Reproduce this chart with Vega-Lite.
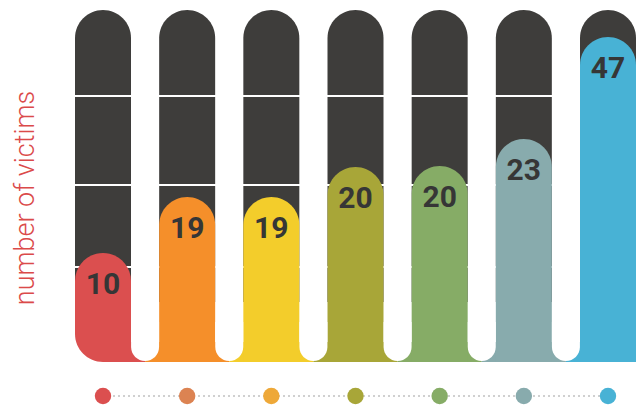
{
  "$schema": "https://vega.github.io/schema/vega-lite/v6.json",
  "width": 561,
  "height": 396,
  "padding": {"left": 75, "top": 10, "right": 0, "bottom": 0},
  "autosize": {"type": "none"},
  "background": "white",
  "config": {"view": {"stroke": null}},
  "data": {
    "values": [
      {"bar": "1", "value": 10, "level": 109},
      {"bar": "2", "value": 19, "level": 165},
      {"bar": "3", "value": 19, "level": 165},
      {"bar": "4", "value": 20, "level": 195},
      {"bar": "5", "value": 20, "level": 196},
      {"bar": "6", "value": 23, "level": 223},
      {"bar": "7", "value": 47, "level": 325}
    ]
  },
  "resolve": {"scale": {"color": "independent"}, "axis": {"y": "independent"}},
  "layer": [
    {
      "mark": {"type": "bar", "color": "#3E3D3B", "cornerRadiusTopLeft": 28, "cornerRadiusTopRight": 28},
      "encoding": {
        "x": {"field": "bar", "type": "nominal", "axis": null, "scale": {"paddingInner": 0.3347, "paddingOuter": 0}},
        "y": {"datum": 352, "type": "quantitative", "scale": {"domain": [-44, 352], "nice": false, "zero": false},
          "axis": {"title": "number of victims", "labels": false, "ticks": false, "domain": false, "grid": false,
            "titleX": -42, "titleY": 187.5, "titleAngle": -90, "titleAlign": "center", "titleBaseline": "alphabetic",
            "titleFont": "Roboto", "titleFontWeight": 300, "titleFontSize": 27, "titleColor": "#DB4A4A"}},
        "y2": {"datum": 60}
      }
    },
    {
      "data": {"values": [{"g": 95}, {"g": 177}, {"g": 266}]},
      "mark": {"type": "rule", "color": "white", "strokeWidth": 2},
      "encoding": {
        "y": {"field": "g", "type": "quantitative", "axis": null}
      }
    },
    {
      "transform": [{"filter": "datum.bar != '1'"}],
      "mark": {"type": "bar", "width": {"band": 1.503}},
      "encoding": {
        "x": {"field": "bar", "type": "nominal", "axis": null},
        "y": {"datum": 20, "type": "quantitative", "axis": null},
        "y2": {"datum": 0},
        "color": {"field": "bar", "type": "nominal", "legend": null,
          "scale": {"domain": ["1","2","3","4","5","6","7"], "range": ["#DB4F4F","#F58F2A","#F3CD2B","#A8A638","#86AC66","#88ABAD","#48B2D5"]}}
      }
    },
    {
      "transform": [{"filter": "datum.bar == '1'"}],
      "mark": {"type": "bar", "width": {"band": 0.75}, "xOffset": 21},
      "encoding": {
        "x": {"field": "bar", "type": "nominal", "axis": null},
        "y": {"datum": 20, "type": "quantitative", "axis": null},
        "y2": {"datum": 0},
        "color": {"field": "bar", "type": "nominal", "legend": null,
          "scale": {"domain": ["1","2","3","4","5","6","7"], "range": ["#DB4F4F","#F58F2A","#F3CD2B","#A8A638","#86AC66","#88ABAD","#48B2D5"]}}
      }
    },
    {
      "transform": [{"filter": "datum.bar != '1'"}],
      "mark": {"type": "bar", "cornerRadiusTopLeft": 28, "cornerRadiusTopRight": 28},
      "encoding": {
        "x": {"field": "bar", "type": "nominal", "axis": null},
        "y": {"field": "level", "type": "quantitative", "axis": null},
        "y2": {"datum": 0},
        "color": {"field": "bar", "type": "nominal", "legend": null,
          "scale": {"domain": ["1","2","3","4","5","6","7"], "range": ["#DB4F4F","#F58F2A","#F3CD2B","#A8A638","#86AC66","#88ABAD","#48B2D5"]}}
      }
    },
    {
      "transform": [{"filter": "datum.bar == '1'"}],
      "mark": {"type": "bar", "cornerRadiusTopLeft": 28, "cornerRadiusTopRight": 28, "cornerRadiusBottomLeft": 28},
      "encoding": {
        "x": {"field": "bar", "type": "nominal", "axis": null},
        "y": {"field": "level", "type": "quantitative", "axis": null},
        "y2": {"datum": 0},
        "color": {"field": "bar", "type": "nominal", "legend": null,
          "scale": {"domain": ["1","2","3","4","5","6","7"], "range": ["#DB4F4F","#F58F2A","#F3CD2B","#A8A638","#86AC66","#88ABAD","#48B2D5"]}}
      }
    },
    {
      "transform": [{"filter": "datum.bar != '7'"}],
      "mark": {"type": "bar", "color": "white", "width": {"band": 0.5}, "xOffset": 42.08, "cornerRadiusBottomLeft": 14, "cornerRadiusBottomRight": 14},
      "encoding": {
        "x": {"field": "bar", "type": "nominal", "axis": null},
        "y": {"datum": 40, "type": "quantitative", "axis": null},
        "y2": {"datum": 1}
      }
    },
    {
      "mark": {"type": "text", "dy": 32, "baseline": "middle", "align": "center", "font": "Roboto", "fontWeight": "bold", "fontSize": 30, "color": "#363636"},
      "encoding": {
        "x": {"field": "bar", "type": "nominal", "axis": null},
        "y": {"field": "level", "type": "quantitative", "axis": null},
        "text": {"field": "value", "type": "quantitative"}
      }
    },
    {
      "mark": {"type": "line", "color": "#D0D0D0", "strokeWidth": 2, "strokeDash": [2, 3]},
      "encoding": {
        "x": {"field": "bar", "type": "nominal", "axis": null},
        "y": {"datum": -34, "type": "quantitative", "axis": null}
      }
    },
    {
      "mark": {"type": "point", "filled": true, "opacity": 1, "size": 270},
      "encoding": {
        "x": {"field": "bar", "type": "nominal", "axis": null},
        "y": {"datum": -34, "type": "quantitative", "axis": null},
        "color": {"field": "bar", "type": "nominal", "legend": null,
          "scale": {"domain": ["1","2","3","4","5","6","7"], "range": ["#DB4F4F","#DC8352","#EEA838","#A8A638","#86AC66","#88ABAD","#48B2D5"]}}
      }
    }
  ]
}
